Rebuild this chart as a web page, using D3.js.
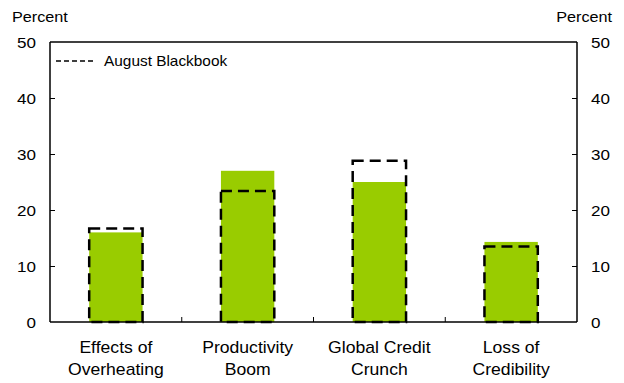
<!DOCTYPE html>
<html><head><meta charset="utf-8">
<script src="https://cdn.jsdelivr.net/npm/d3@7"></script>
<style>body{margin:0;background:#fff}svg{display:block}text{font-family:"Liberation Sans",Arial,sans-serif;fill:#000}</style>
</head><body>
<svg id="c" width="624" height="383"></svg>
<script>
const categories = [["Effects of","Overheating"],["Productivity","Boom"],["Global Credit","Crunch"],["Loss of","Credibility"]];
const current = [16.0, 27.0, 25.0, 14.3];
const august = [16.7, 23.4, 28.8, 13.5];
const yTicks = [0,10,20,30,40,50];

const svg = d3.select("#c");
const L=50, R=577, T=42, B=322;
const SX = 1.1;
const x = d3.scaleBand().domain(d3.range(categories.length)).range([L,R]).paddingInner(0).paddingOuter(0);
const y = d3.scaleLinear().domain([0,50]).range([B,T]);
const bw = x.bandwidth()*0.405;

function label(px,py,txt,size,anchor,sx){
  return svg.append("text").attr("transform",`translate(${px},${py}) scale(${sx||SX},1)`)
    .attr("font-size",size).attr("text-anchor",anchor||"start").text(txt);
}

// bars
svg.selectAll("rect.bar").data(current).enter().append("rect")
  .attr("x",(d,i)=>x(i)+x.bandwidth()/2-bw/2).attr("width",bw)
  .attr("y",d=>y(d)).attr("height",d=>B-y(d)).attr("fill","#99cc00");

// dashed outlines
svg.selectAll("rect.aug").data(august).enter().append("rect")
  .attr("x",(d,i)=>x(i)+x.bandwidth()/2-bw/2).attr("width",bw)
  .attr("y",d=>y(d)).attr("height",d=>B-y(d))
  .attr("fill","none").attr("stroke","#000").attr("stroke-width",2.5).attr("stroke-dasharray","11,6");

// axes (ticks only; labels drawn separately)
const la = svg.append("g").attr("transform",`translate(${L},0)`).call(d3.axisLeft(y).tickValues(yTicks).tickSize(-5).tickFormat(""));
const ra = svg.append("g").attr("transform",`translate(${R},0)`).call(d3.axisRight(y).tickValues(yTicks).tickSize(-5).tickFormat(""));
[la,ra].forEach(g=>{g.select(".domain").attr("stroke","#000").attr("stroke-width",1.5).attr("d",`M0,${T}V${B}`);
  g.selectAll(".tick line").attr("stroke","#000");
  g.selectAll(".tick").filter(d=>d===0||d===50).select("line").remove();});
yTicks.forEach(v=>{
  label(36, y(v)+5.5, String(v), 15.5, "end");
  label(591, y(v)+5.5, String(v), 15.5, "start");
});

// top line
svg.append("line").attr("x1",L).attr("x2",R).attr("y1",T).attr("y2",T).attr("stroke","#000").attr("stroke-width",1.5);
// bottom axis
svg.append("line").attr("x1",L).attr("x2",R).attr("y1",B).attr("y2",B).attr("stroke","#000").attr("stroke-width",1.5);
svg.selectAll("line.bt").data(d3.range(1,categories.length)).enter().append("line")
  .attr("x1",i=>x(i)).attr("x2",i=>x(i)).attr("y1",B).attr("y2",B-5).attr("stroke","#000");

// category labels
categories.forEach((c,i)=>{
  c.forEach((s,j)=>label(x(i)+x.bandwidth()/2, 353+22*j, s, 16, "middle"));
});

// unit labels
label(12, 22, "Percent", 15, "start", 1.08);
label(612, 22, "Percent", 15, "end", 1.08);

// legend
svg.append("line").attr("x1",56).attr("x2",94).attr("y1",61).attr("y2",61).attr("stroke","#000").attr("stroke-width",1.3).attr("stroke-dasharray","5,3");
label(104, 66, "August Blackbook", 14, "start", 1.1);
</script>
</body></html>
